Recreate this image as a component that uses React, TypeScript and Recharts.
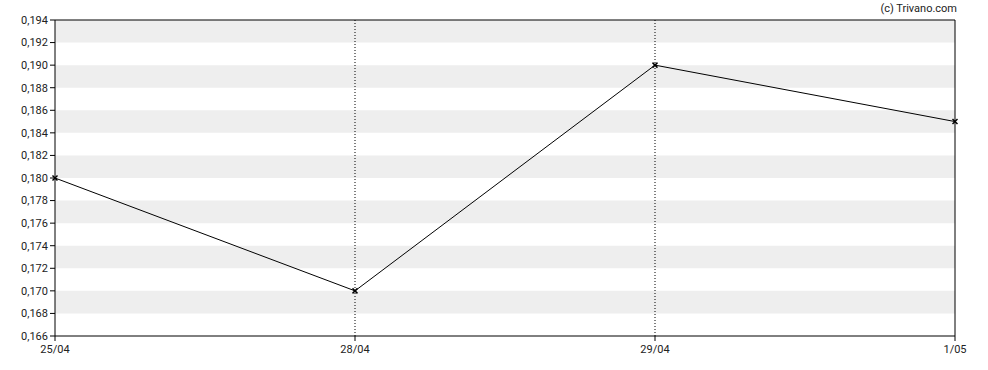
import React from "react";
import { LineChart, Line, XAxis, YAxis, ReferenceArea, ReferenceLine } from "recharts";

const categories = ["25/04", "28/04", "29/04", "1/05"];
const prices = [0.18, 0.17, 0.19, 0.185];
const yTicks = [0.166, 0.168, 0.17, 0.172, 0.174, 0.176, 0.178, 0.18, 0.182, 0.184, 0.186, 0.188, 0.19, 0.192, 0.194];

const data = categories.map((c, i) => ({ date: c, price: prices[i] }));

// gray bands: every other interval between ticks, starting from the top
const bands: [number, number][] = [];
for (let i = yTicks.length - 1; i > 0; i -= 2) {
  bands.push([yTicks[i - 1], yTicks[i]]);
}

const fmt = (v: number) => v.toFixed(3).replace(".", ",");

const CrossDot = (props: any) => {
  const { cx, cy } = props;
  if (cx == null || cy == null) return null;
  const s = 2.5;
  return (
    <g>
      <line x1={cx - s} y1={cy - s} x2={cx + s} y2={cy + s} stroke="#000" strokeWidth={1.5} />
      <line x1={cx - s} y1={cy + s} x2={cx + s} y2={cy - s} stroke="#000" strokeWidth={1.5} />
    </g>
  );
};

const tickStyle = { fontSize: 11, fill: "#222", fontFamily: "Roboto" };

export default function App() {
  return (
    <div style={{ position: "absolute", left: 0, top: 0, width: 988, height: 370, background: "#fff", fontFamily: "Roboto" }}>
      <div style={{ position: "absolute", right: 31, top: 2, fontSize: 11, color: "#222", fontFamily: "Roboto" }}>
        (c) Trivano.com
      </div>
      <LineChart width={988} height={370} data={data} margin={{ top: 20, right: 33, bottom: 0, left: 0 }}>
        {bands.map(([a, b], i) => (
          <ReferenceArea key={i} y1={a} y2={b} fill="#eeeeee" fillOpacity={1} stroke="none" ifOverflow="hidden" />
        ))}
        {categories.slice(1, -1).map((c) => (
          <ReferenceLine key={c} x={c} stroke="#000" strokeDasharray="1 2" />
        ))}
        <ReferenceLine y={yTicks[yTicks.length - 1]} stroke="#000" />
        <ReferenceLine x={categories[categories.length - 1]} stroke="#000" />
        <XAxis
          dataKey="date"
          height={34}
          tick={tickStyle}
          tickSize={5}
          tickMargin={4}
          stroke="#000"
          axisLine={{ stroke: "#000" }}
          tickLine={{ stroke: "#000" }}
          interval={0}
        />
        <YAxis
          width={55}
          domain={[0.166, 0.194]}
          ticks={yTicks}
          tickFormatter={fmt}
          tick={tickStyle}
          tickSize={5}
          tickMargin={2}
          axisLine={{ stroke: "#000" }}
          tickLine={{ stroke: "#000" }}
          interval={0}
        />
        <Line
          type="linear"
          dataKey="price"
          stroke="#000"
          strokeWidth={1}
          dot={<CrossDot />}
          activeDot={false}
          isAnimationActive={false}
        />
      </LineChart>
    </div>
  );
}
